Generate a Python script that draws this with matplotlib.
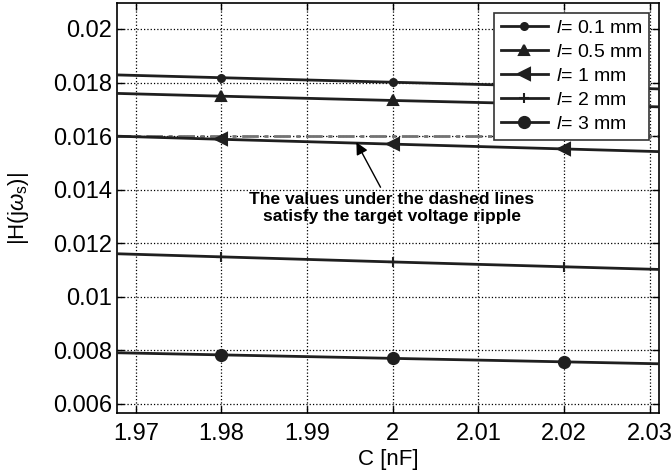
import matplotlib
matplotlib.use('Agg')
import matplotlib.pyplot as plt
from matplotlib.ticker import FuncFormatter

plt.rcParams['font.family'] = ['Liberation Sans', 'DejaVu Sans']
plt.rcParams['mathtext.fontset'] = 'custom'
plt.rcParams['mathtext.it'] = 'Liberation Sans:italic'
plt.rcParams['mathtext.rm'] = 'Liberation Sans'

# capacitance [nF]
C = [1.96, 1.98, 2.00, 2.02, 2.04]

# |H(j w_s)| for each length l
h_01 = [0.01835, 0.01818, 0.01801, 0.01785, 0.01769]
h_05 = [0.01766, 0.01749, 0.01733, 0.01718, 0.01702]
h_1 = [0.01607, 0.01588, 0.01570, 0.01552, 0.01534]
h_2 = [0.01168, 0.01149, 0.01130, 0.01112, 0.01094]
h_3 = [0.00796, 0.00783, 0.00770, 0.00757, 0.00744]

labels = ['0.1', '0.5', '1', '2', '3']
target = 0.016

xticks = [1.97, 1.98, 1.99, 2.00, 2.01, 2.02, 2.03]
yticks = [0.006, 0.008, 0.01, 0.012, 0.014, 0.016, 0.018, 0.02]

fig = plt.figure(figsize=(6.72, 4.74), dpi=100)
ax = fig.add_axes([0.1741, 0.1287, 0.8066, 0.865])

ax.plot([1.96, 2.04], [target, target], color='0.45', ls=(0, (6, 2, 1.5, 2)), lw=2, zorder=2)

series = [h_01, h_05, h_1, h_2, h_3]
markers = ['o', '^', '<', '+', 'o']
msizes = [5, 7, 8, 7, 8]
for h, lab, m, ms in zip(series, labels, markers, msizes):
    ax.plot(C, h, color='0.12', lw=2, marker=m, ms=ms, mew=1.5,
            markevery=[1, 2, 3], label=r'$l$' + '= ' + lab + ' mm', zorder=3)

ax.set_xlim(1.9678, 2.0311)
ax.set_ylim(0.00566, 0.02097)
ax.set_xticks(xticks)
ax.set_yticks(yticks)
ax.xaxis.set_major_formatter(FuncFormatter(lambda v, p: '%g' % round(v, 4)))
ax.yaxis.set_major_formatter(FuncFormatter(lambda v, p: '%g' % round(v, 4)))
ax.tick_params(direction='in', top=True, right=True, labelsize=17, length=5, width=1)
ax.tick_params(axis='x', pad=7)
ax.grid(True, ls=':', color='k', lw=0.9)
for s in ax.spines.values():
    s.set_linewidth(1.2)

ax.set_xlabel('C [nF]', fontsize=16, labelpad=3)
ax.set_ylabel(r'|H(j$\omega_{\rm s}$)|', fontsize=16, labelpad=16)

leg = ax.legend(loc='upper right', fontsize=14, frameon=True, fancybox=False,
                edgecolor='0.2', framealpha=1, handlelength=2.4, borderpad=0.35,
                labelspacing=0.33, handletextpad=0.4, borderaxespad=0.5)
leg.get_frame().set_linewidth(1.2)

ax.annotate('The values under the dashed lines\nsatisfy the target voltage ripple',
            xy=(1.9956, 0.01586), xytext=(1.9999, 0.0133),
            ha='center', va='center', fontsize=12.5, fontweight='bold',
            linespacing=1.15,
            arrowprops=dict(arrowstyle='-|>', color='k', lw=1, mutation_scale=18),
            zorder=5)

fig.savefig('out.png', dpi=100)
